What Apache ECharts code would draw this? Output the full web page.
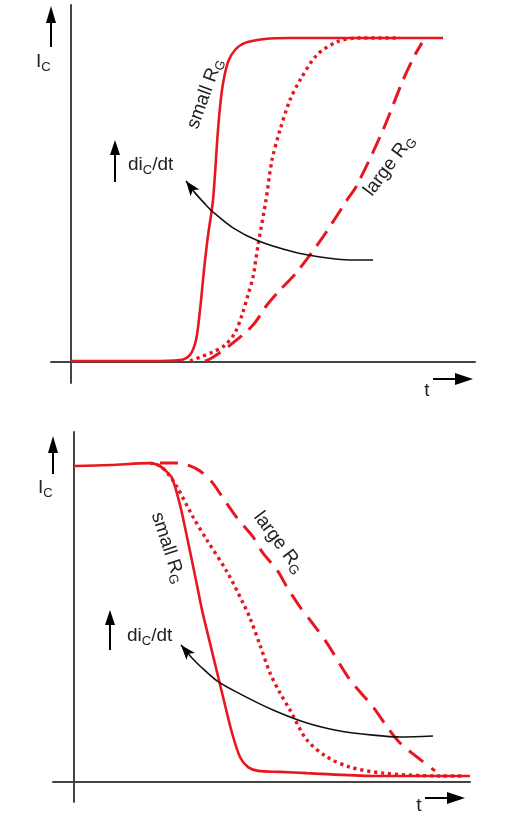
<!DOCTYPE html>
<html><head><meta charset="utf-8">
<script src="https://cdn.jsdelivr.net/npm/echarts@6/dist/echarts.min.js"></script>
<style>html,body{margin:0;padding:0;background:#fff}#c{width:507px;height:824px}</style>
</head><body><div id="c"></div>
<script>
// ---- Turn-on (top): [t, Ic %] ----
const onSmallRG = [[0,0.3],[19.75,0.3],[27.25,0.6],[29.75,2.2],[31.25,6.8],[32.25,16],[33.25,28.4],[34.25,39],[35.5,50],[36.75,71.6],[37.75,84],[39.25,92.6],[41,96.3],[43.5,98.5],[48.5,99.7],[54.75,100],[93,100]];
const onMidRG = [[29.75,0.3],[32.25,1.5],[35.5,3.1],[38.5,5.2],[41,9],[42.75,14.5],[44.25,20.7],[45.5,26.2],[46.75,36],[48.75,50],[50.25,62.3],[52.25,71.6],[54.75,80.9],[57.25,87],[61.5,94.8],[66.5,98.8],[71.5,100],[82.25,100]];
const onLargeRG = [[33.5,0.3],[35.5,1.5],[40.5,5.9],[45.5,11.4],[49,17.6],[52.25,22.2],[56.5,27.8],[63,38.6],[69,50],[71.5,54.6],[78,71.6],[83,87],[86,94.8],[87.75,98.5]];
const onDidt = [[28.75,55.9],[31,52.2],[33.5,48.8],[35.5,46.3],[40.5,41.4],[46.75,37.4],[55.5,34],[62.25,32.4],[69.75,31.5],[75.5,31.5]];

// ---- Turn-off (bottom): [t, Ic %] ----
const offSmallRG = [[0,99.7],[9,100],[19,100.6],[21,100],[22.75,98.4],[24.5,95.9],[26.5,87.4],[28.25,77.3],[30.75,62.1],[32,54.3],[34,43.8],[35.75,34.7],[37.75,24.3],[39.5,15.5],[41.5,7.9],[43.5,4.7],[46,3.5],[51.5,3.2],[58.25,2.8],[74.75,1.9],[99,1.9]];
const offMidRG = [[19,100.6],[21.5,99.7],[23.5,97.2],[25.75,93.1],[29.75,83.6],[33.25,76.3],[38.25,66.3],[42.25,56.5],[44,51.7],[46.5,43.2],[49,34.4],[51.5,28.1],[54,22.7],[58.25,13.2],[63.25,7.9],[69,4.7],[77.25,2.8],[91.5,1.9],[97.75,1.9]];
const offLargeRG = [[21.5,100.6],[25.75,100.6],[29,99.7],[31.5,98.1],[34.5,94.6],[37.25,89.6],[40.75,83.3],[44.75,77.3],[47.25,72.2],[50.75,66.9],[53.25,61.5],[56.5,55.2],[59,51.1],[63.25,43.8],[69,32.2],[74.75,23.7],[78.25,17.4],[81.5,12.3],[85.75,7.9],[90.25,3.5]];
const offDidt = [[26.75,43.2],[29.5,39.1],[31.5,36.6],[35.75,31.9],[41.5,27.8],[49.75,22.7],[58.25,18.6],[66.5,16.1],[74.75,14.8],[81.5,14.2],[89.75,14.5]];

// ---- texts ----
const txtIc = ['I','C'];
const txtDidt = ['di','C','/dt'];
const txtSmall = ['small R','G'];
const txtLarge = ['large R','G'];
const txtT = 't';

const RED = '#e8161e';
const FONT = 'Liberation Sans, Arial, sans-serif';
const chart = echarts.init(document.getElementById('c'));

function ax(gi, min, max) {
  return {type:'value', gridIndex:gi, min:min, max:max,
    axisLine:{show:true, onZero:true, lineStyle:{color:'#444', width:2}},
    axisTick:{show:false}, axisLabel:{show:false}, splitLine:{show:false}};
}
function ser(gi, data, type, width, color) {
  return {type:'line', xAxisIndex:gi, yAxisIndex:gi, data:data, symbol:'none', smooth:0.3,
    lineStyle:{color:color||RED, width:width, type:type, cap:'butt'}, silent:true};
}

chart.setOption({
  animation:false,
  grid:[{left:51, top:5, width:424, height:378}, {left:53, top:432, width:417, height:370}],
  xAxis:[ax(0,-5,101), ax(1,-5.25,99)],
  yAxis:[ax(0,-6.48,110.19), ax(1,-6.31,110.41)],
  series:[
    ser(0, onSmallRG, 'solid', 2.6),
    ser(0, onMidRG, [3.2,3.8], 3.4),
    ser(0, onLargeRG, [18,9], 3),
    ser(0, onDidt, 'solid', 1.6, '#111'),
    ser(1, offSmallRG, 'solid', 2.6),
    ser(1, offMidRG, [3.2,3.8], 3.4),
    ser(1, offLargeRG, [18,10], 3),
    ser(1, offDidt, 'solid', 1.6, '#111')
  ]
});

function arrowEls(x1,y1,x2,y2,L,W,lw,notch,noShaft){
  const dx=x2-x1, dy=y2-y1, len=Math.hypot(dx,dy), ux=dx/len, uy=dy/len, nx=-uy, ny=ux;
  const bx=x2-ux*L, by=y2-uy*L;
  const pts=[[x2,y2],[bx+nx*W,by+ny*W]];
  if(notch) pts.push([x2-ux*L*(1-notch), y2-uy*L*(1-notch)]);
  pts.push([bx-nx*W,by-ny*W]);
  const els=[{type:'polygon', shape:{points:pts}, style:{fill:'#000'}, z:20}];
  if(!noShaft) els.push({type:'line', shape:{x1:x1,y1:y1,x2:bx+ux,y2:by+uy}, style:{stroke:'#000',lineWidth:lw}, z:20});
  return els;
}
function rt(parts){
  return parts.map((p,i)=> (i%2===0?'{m|':'{s|')+p+'}').join('');
}
const RICH = {
  m:{fontSize:19, fontFamily:FONT, fill:'#222', verticalAlign:'bottom', padding:[0,0,2,0]},
  s:{fontSize:13, fontFamily:FONT, fill:'#222', verticalAlign:'bottom'}
};
function textEl(parts, x, y, rotDeg, align){
  return {type:'text', x:x, y:y, rotation:(rotDeg||0)*Math.PI/180, z:20,
    style:{text:rt(parts), rich:RICH, align:align||'center', verticalAlign:'middle'}};
}

const g = [];
g.push(...arrowEls(51,47,51,6,17,5,2));
g.push(...arrowEls(433,379,473,379,18,6,2));
g.push(...arrowEls(115,182,115,140,15,5,2));
g.push(...arrowEls(53,474,53,436,17,5,2));
g.push(...arrowEls(425,798,465,798,18,6,2));
g.push(...arrowEls(110,650,110,610,15,5,2));
[[0,onDidt],[1,offDidt]].forEach(([gi,d])=>{
  const p1=chart.convertToPixel({gridIndex:gi}, d[0]);
  const p2=chart.convertToPixel({gridIndex:gi}, d[1]);
  g.push(...arrowEls(p2[0],p2[1],p1[0],p1[1],15,5.5,0,0.25,true));
});
g.push(textEl(txtIc, 36, 63, 0, 'left'));
g.push(textEl(txtDidt, 128, 166, 0, 'left'));
g.push(textEl(txtSmall, 206, 94, 70));
g.push(textEl(txtLarge, 390, 166, 53));
g.push(textEl([txtT], 427, 392, 0));
g.push(textEl(txtIc, 38, 489, 0, 'left'));
g.push(textEl(txtDidt, 127, 637, 0, 'left'));
g.push(textEl(txtSmall, 167, 548, -72));
g.push(textEl(txtLarge, 278, 543, -53));
g.push(textEl([txtT], 419, 807, 0));
chart.setOption({graphic:g});
</script></body></html>
